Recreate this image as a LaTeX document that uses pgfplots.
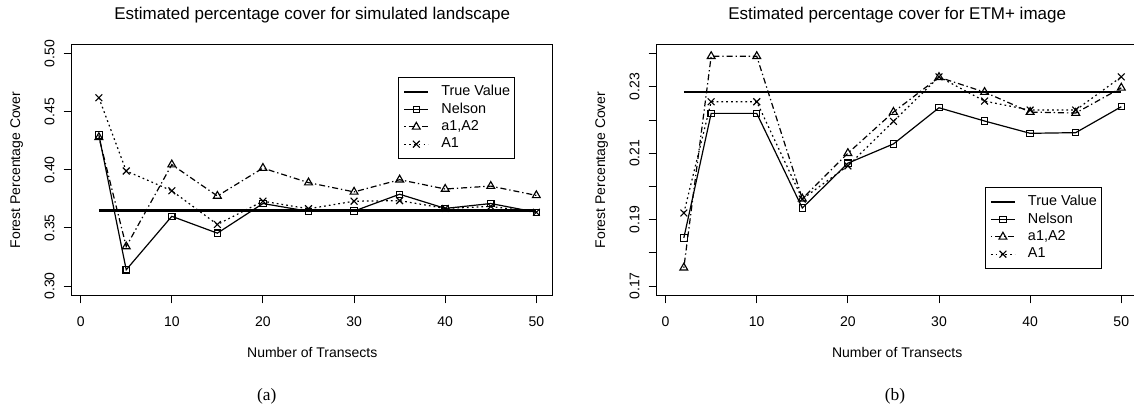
\documentclass[border=0pt]{standalone}
\usepackage{fontspec}
\setmainfont{Liberation Sans}
\newfontfamily\seriffont{Liberation Serif}
\usepackage{pgfplots}
\usepackage{pgfplotstable}
\pgfplotsset{compat=1.18}

\pgfplotstableread{
x   nelson  aa      aone    true
2   0.4300  0.4280  0.4620  0.365
5   0.3140  0.3340  0.3990  0.365
10  0.3600  0.4045  0.3820  0.365
15  0.3455  0.3775  0.3530  0.365
20  0.3710  0.4015  0.3730  0.365
25  0.3643  0.3890  0.3665  0.365
30  0.3645  0.3810  0.3730  0.365
35  0.3790  0.3915  0.3735  0.365
40  0.3668  0.3835  0.3668  0.365
45  0.3710  0.3860  0.3685  0.365
50  0.3635  0.3780  0.3635  0.365
}\dataA

\pgfplotstableread{
x   nelson  aa      aone    true
2   0.1845  0.1755  0.1920  0.2285
5   0.2220  0.2392  0.2255  0.2285
10  0.2220  0.2392  0.2255  0.2285
15  0.1935  0.1963  0.1962  0.2285
20  0.2070  0.2100  0.2062  0.2285
25  0.2128  0.2224  0.2196  0.2285
30  0.2237  0.2329  0.2330  0.2285
35  0.2197  0.2284  0.2257  0.2285
40  0.2160  0.2224  0.2230  0.2285
45  0.2162  0.2221  0.2230  0.2285
50  0.2240  0.2297  0.2330  0.2285
}\dataB

\pgfplotsset{
  legend image code/.code={\draw[mark repeat=2,mark phase=2,#1] plot coordinates {(0pt,0pt) (9pt,0pt) (18pt,0pt)};},
  myaxis/.style={
    scale only axis, width=360.75pt, height=188.25pt, anchor=south west,
    axis line style={line width=0.75pt},
    every tick/.style={line width=0.75pt, black},
    major tick length=6pt, tick align=outside,
    xtick pos=bottom, ytick pos=left,
    xmin=-0.98, xmax=51.8, xtick={0,10,20,30,40,50},
    /pgf/number format/assume math mode=true,
    ticklabel style={font=\fontsize{10.5pt}{12pt}\selectfont},
    xticklabel style={anchor=north, inner sep=0pt},
    yticklabel style={rotate=90, anchor=south, inner sep=0pt},
    xticklabel shift=10pt, yticklabel shift=6.75pt,
    label style={font=\fontsize{10.5pt}{12pt}\selectfont},
    xlabel={Number of Transects}, ylabel={Forest Percentage Cover},
    xlabel style={at={(axis description cs:0.5,-0.2259)}, anchor=center},
    ylabel style={at={(axis description cs:-0.1143,0.5)}, anchor=center},
    every axis title shift=0pt,
    title style={at={(axis description cs:0.5,1.1167)}, anchor=center, yshift=0pt, font=\fontsize{12.75pt}{14pt}\selectfont},
    legend style={draw=black, line width=0.75pt, fill=white,
      font=\fontsize{10.8pt}{12pt}\selectfont,
      inner xsep=3.3pt, inner ysep=6pt, row sep=3.5pt, column sep=9pt,
      nodes={inner sep=0pt, text height=7.5pt, text depth=2pt},
      cells={anchor=west}},
    clip=false,
  },
  truestyle/.style={black, line width=1.6pt, mark=none},
  nelsonstyle/.style={black, line width=0.9pt, solid, mark=square, mark size=2.4pt, mark options={solid, line width=0.8pt}},
  aastyle/.style={black, line width=0.9pt, dash pattern=on 1pt off 2.2pt on 4.5pt off 2.2pt, mark=triangle, mark size=3.4pt, mark options={solid, line width=0.85pt}},
  aonestyle/.style={black, line width=0.9pt, dash pattern=on 1.3pt off 2.3pt, mark=x, mark size=3.6pt, mark options={solid, line width=0.85pt}},
}

\begin{document}
\begin{tikzpicture}
\useasboundingbox (0,0) rectangle (850.5pt,306pt);

\begin{axis}[myaxis, at={(53.8pt,84.5pt)},
  ymin=0.292, ymax=0.508,
  ytick={0.30,0.35,0.40,0.45,0.50},
  yticklabels={0.30,0.35,0.40,0.45,0.50},
  title={Estimated percentage cover for simulated landscape},
  legend style={at={(axis description cs:0.679,0.8685)}, anchor=north west},
]
\addplot[truestyle] table[x=x, y=true] {\dataA};
\addlegendentry{True Value}
\addplot[nelsonstyle] table[x=x, y=nelson] {\dataA};
\addlegendentry{Nelson}
\addplot[aastyle] table[x=x, y=aa] {\dataA};
\addlegendentry{a1,A2}
\addplot[aonestyle] table[x=x, y=aone] {\dataA};
\addlegendentry{A1}
\end{axis}

\begin{axis}[myaxis, at={(492.5pt,84.5pt)},
  ymin=0.1672, ymax=0.2428,
  ytick={0.17,0.18,0.19,0.20,0.21,0.22,0.23,0.24},
  yticklabels={0.17,,0.19,,0.21,,0.23,},
  title={Estimated percentage cover for ETM+ image},
  legend style={at={(axis description cs:0.6825,0.4303)}, anchor=north west},
]
\addplot[truestyle] table[x=x, y=true] {\dataB};
\addlegendentry{True Value}
\addplot[nelsonstyle] table[x=x, y=nelson] {\dataB};
\addlegendentry{Nelson}
\addplot[aastyle] table[x=x, y=aa] {\dataB};
\addlegendentry{a1,A2}
\addplot[aonestyle] table[x=x, y=aone] {\dataB};
\addlegendentry{A1}
\end{axis}

\node[font=\seriffont\fontsize{13pt}{15pt}\selectfont] at (200pt,8.5pt) {(a)};
\node[font=\seriffont\fontsize{13pt}{15pt}\selectfont] at (671.25pt,8.5pt) {(b)};
\end{tikzpicture}
\end{document}
